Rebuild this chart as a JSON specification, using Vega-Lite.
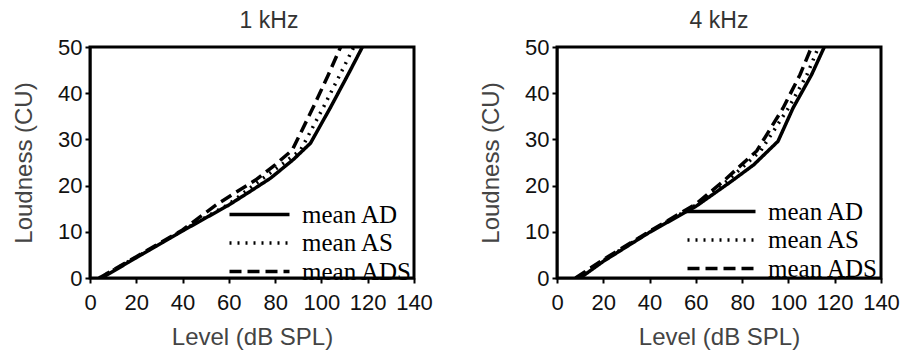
{
  "$schema": "https://vega.github.io/schema/vega-lite/v6.json",
  "padding": {"left": 11, "top": 8, "right": 0, "bottom": 0},
  "background": "white",
  "datasets": {
    "curves": [
      {"freq": "1 kHz", "series": "mean AD", "level": 5, "loudness": 0},
      {"freq": "1 kHz", "series": "mean AD", "level": 20, "loudness": 4.4},
      {"freq": "1 kHz", "series": "mean AD", "level": 40, "loudness": 10.2},
      {"freq": "1 kHz", "series": "mean AD", "level": 60, "loudness": 15.8},
      {"freq": "1 kHz", "series": "mean AD", "level": 70, "loudness": 19},
      {"freq": "1 kHz", "series": "mean AD", "level": 78, "loudness": 21.6},
      {"freq": "1 kHz", "series": "mean AD", "level": 88, "loudness": 25.7},
      {"freq": "1 kHz", "series": "mean AD", "level": 95.3, "loudness": 29.2},
      {"freq": "1 kHz", "series": "mean AD", "level": 104, "loudness": 37},
      {"freq": "1 kHz", "series": "mean AD", "level": 112, "loudness": 44.5},
      {"freq": "1 kHz", "series": "mean AD", "level": 117.7, "loudness": 50},
      {"freq": "1 kHz", "series": "mean AS", "level": 4, "loudness": 0},
      {"freq": "1 kHz", "series": "mean AS", "level": 20, "loudness": 4.5},
      {"freq": "1 kHz", "series": "mean AS", "level": 40, "loudness": 10.3},
      {"freq": "1 kHz", "series": "mean AS", "level": 60, "loudness": 16},
      {"freq": "1 kHz", "series": "mean AS", "level": 73.7, "loudness": 21.2},
      {"freq": "1 kHz", "series": "mean AS", "level": 84, "loudness": 25},
      {"freq": "1 kHz", "series": "mean AS", "level": 91, "loudness": 27.7},
      {"freq": "1 kHz", "series": "mean AS", "level": 101, "loudness": 37.1},
      {"freq": "1 kHz", "series": "mean AS", "level": 108, "loudness": 44},
      {"freq": "1 kHz", "series": "mean AS", "level": 114, "loudness": 50},
      {"freq": "1 kHz", "series": "mean ADS", "level": 4, "loudness": 0},
      {"freq": "1 kHz", "series": "mean ADS", "level": 20, "loudness": 4.6},
      {"freq": "1 kHz", "series": "mean ADS", "level": 40, "loudness": 10.4},
      {"freq": "1 kHz", "series": "mean ADS", "level": 55, "loudness": 16},
      {"freq": "1 kHz", "series": "mean ADS", "level": 71.5, "loudness": 21.2},
      {"freq": "1 kHz", "series": "mean ADS", "level": 80, "loudness": 24.5},
      {"freq": "1 kHz", "series": "mean ADS", "level": 87.4, "loudness": 27.7},
      {"freq": "1 kHz", "series": "mean ADS", "level": 96.6, "loudness": 37.1},
      {"freq": "1 kHz", "series": "mean ADS", "level": 103, "loudness": 44},
      {"freq": "1 kHz", "series": "mean ADS", "level": 108.3, "loudness": 50},
      {"freq": "4 kHz", "series": "mean AD", "level": 10, "loudness": 0},
      {"freq": "4 kHz", "series": "mean AD", "level": 20, "loudness": 3.6},
      {"freq": "4 kHz", "series": "mean AD", "level": 40, "loudness": 9.9},
      {"freq": "4 kHz", "series": "mean AD", "level": 60, "loudness": 15.5},
      {"freq": "4 kHz", "series": "mean AD", "level": 75, "loudness": 20.8},
      {"freq": "4 kHz", "series": "mean AD", "level": 85, "loudness": 24.5},
      {"freq": "4 kHz", "series": "mean AD", "level": 95.5, "loudness": 29.6},
      {"freq": "4 kHz", "series": "mean AD", "level": 102, "loudness": 36.8},
      {"freq": "4 kHz", "series": "mean AD", "level": 110, "loudness": 44},
      {"freq": "4 kHz", "series": "mean AD", "level": 115.5, "loudness": 50},
      {"freq": "4 kHz", "series": "mean AS", "level": 9, "loudness": 0},
      {"freq": "4 kHz", "series": "mean AS", "level": 20, "loudness": 3.8},
      {"freq": "4 kHz", "series": "mean AS", "level": 40, "loudness": 10},
      {"freq": "4 kHz", "series": "mean AS", "level": 60, "loudness": 15.8},
      {"freq": "4 kHz", "series": "mean AS", "level": 73.5, "loudness": 21},
      {"freq": "4 kHz", "series": "mean AS", "level": 88, "loudness": 27.5},
      {"freq": "4 kHz", "series": "mean AS", "level": 100, "loudness": 36.8},
      {"freq": "4 kHz", "series": "mean AS", "level": 108, "loudness": 44},
      {"freq": "4 kHz", "series": "mean AS", "level": 113, "loudness": 50},
      {"freq": "4 kHz", "series": "mean ADS", "level": 8, "loudness": 0},
      {"freq": "4 kHz", "series": "mean ADS", "level": 20, "loudness": 4},
      {"freq": "4 kHz", "series": "mean ADS", "level": 40, "loudness": 10.1},
      {"freq": "4 kHz", "series": "mean ADS", "level": 60, "loudness": 16},
      {"freq": "4 kHz", "series": "mean ADS", "level": 72, "loudness": 21},
      {"freq": "4 kHz", "series": "mean ADS", "level": 86.3, "loudness": 27.5},
      {"freq": "4 kHz", "series": "mean ADS", "level": 97.7, "loudness": 36.8},
      {"freq": "4 kHz", "series": "mean ADS", "level": 105, "loudness": 44},
      {"freq": "4 kHz", "series": "mean ADS", "level": 110, "loudness": 50}
    ]
  },
  "config": {
    "font": "Liberation Sans",
    "view": {"stroke": "black", "strokeWidth": 3},
    "concat": {"spacing": 143},
    "axis": {
      "grid": false,
      "domainColor": "black",
      "domainWidth": 2,
      "tickColor": "black",
      "tickWidth": 2,
      "tickSize": 5,
      "labelFont": "Liberation Sans",
      "labelFontSize": 22,
      "labelColor": "#111",
      "titleFont": "Liberation Sans",
      "titleFontSize": 24,
      "titleFontWeight": "normal",
      "titleColor": "#444"
    },
    "axisX": {"labelPadding": 9, "titlePadding": 12, "labelFlush": false},
    "axisY": {"labelPadding": 3, "titlePadding": 21},
    "title": {"font": "Liberation Sans", "fontSize": 23, "fontWeight": "normal", "color": "#333", "offset": 3},
    "legend": {
      "labelFont": "Liberation Serif",
      "labelFontSize": 25,
      "labelColor": "black",
      "symbolStrokeColor": "black",
      "symbolStrokeWidth": 3.5,
      "symbolSize": 400,
      "rowPadding": 2.5,
      "padding": 0,
      "title": null
    }
  },
  "bounds": "flush",
  "resolve": {"scale": {"strokeDash": "independent"}, "legend": {"strokeDash": "independent"}},
  "hconcat": [
    {
      "width": 324,
      "height": 231,
      "title": {"text": "1 kHz", "dx": 17},
      "data": {"name": "curves"},
      "transform": [{"filter": "datum.freq == '1 kHz'"}],
      "mark": {"type": "line", "color": "black", "strokeWidth": 3.5, "clip": true},
      "encoding": {
        "x": {"field": "level", "type": "quantitative", "scale": {"domain": [0, 140], "nice": false}, "axis": {"values": [0, 20, 40, 60, 80, 100, 120, 140], "title": "Level (dB SPL)"}},
        "y": {"field": "loudness", "type": "quantitative", "scale": {"domain": [0, 50], "nice": false}, "axis": {"values": [0, 10, 20, 30, 40, 50], "title": "Loudness (CU)"}},
        "strokeDash": {
          "field": "series", "type": "nominal",
          "scale": {"domain": ["mean AD", "mean AS", "mean ADS"], "range": [[1, 0], [2, 6], [12, 6]]},
          "legend": {"orient": "none", "legendX": 139, "legendY": 155, "symbolType": "M-3,0H3", "symbolOffset": 18, "labelOffset": 30}
        },
        "detail": {"field": "series"}
      }
    },
    {
      "width": 324,
      "height": 231,
      "title": "4 kHz",
      "data": {"name": "curves"},
      "transform": [{"filter": "datum.freq == '4 kHz'"}],
      "mark": {"type": "line", "color": "black", "strokeWidth": 3.5, "clip": true},
      "encoding": {
        "x": {"field": "level", "type": "quantitative", "scale": {"domain": [0, 140], "nice": false}, "axis": {"values": [0, 20, 40, 60, 80, 100, 120, 140], "title": "Level (dB SPL)"}},
        "y": {"field": "loudness", "type": "quantitative", "scale": {"domain": [0, 50], "nice": false}, "axis": {"values": [0, 10, 20, 30, 40, 50], "title": "Loudness (CU)"}},
        "strokeDash": {
          "field": "series", "type": "nominal",
          "scale": {"domain": ["mean AD", "mean AS", "mean ADS"], "range": [[1, 0], [2, 6], [12, 6]]},
          "legend": {"orient": "none", "legendX": 130, "legendY": 152, "symbolType": "M-3.4,0H3.4", "symbolOffset": 22, "labelOffset": 34}
        },
        "detail": {"field": "series"}
      }
    }
  ]
}
